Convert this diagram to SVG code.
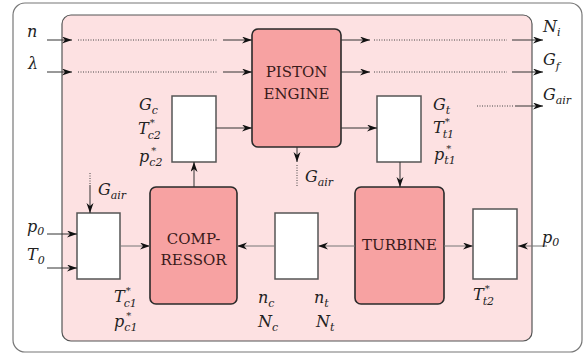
<svg xmlns="http://www.w3.org/2000/svg" width="584" height="353" viewBox="0 0 584 353">
<defs>
<marker id="ah" markerWidth="11" markerHeight="8" refX="10" refY="3.5" orient="auto" markerUnits="userSpaceOnUse">
<path d="M0,0 L10,3.5 L0,7 L3,3.5 z" fill="#111"/>
</marker>
<style>
.frame{fill:#fff;stroke:#777;stroke-width:1.2}
.inner{fill:#fde1e2;stroke:#555;stroke-width:1.2}
.mach{fill:#f7a2a2;stroke:#2a2a2a;stroke-width:1.6}
.box{fill:#fff;stroke:#555;stroke-width:1.5}
.ln{stroke:#333;stroke-width:1;fill:none;marker-end:url(#ah)}
.gl{stroke:#777;stroke-width:1;fill:none;marker-end:url(#ah)}
.dot{stroke:#444;stroke-width:1;stroke-dasharray:1,1.5;fill:none}
.m{font-family:'DejaVu Serif','Liberation Serif',serif;font-style:italic;font-size:16px;fill:#222}
.s{font-size:11px}
.st{font-size:10px;font-style:normal}
.lbl{font-family:'DejaVu Serif','Liberation Serif',serif;font-size:15px;fill:#3a1a1a;text-anchor:middle}
</style>
</defs>
<rect class="frame" x="13" y="3" width="569" height="349" rx="12"/>
<rect class="inner" x="62" y="15" width="470" height="326" rx="9"/>

<g id="piston"><rect class="mach" x="252" y="29" width="89" height="118" rx="6"/>
<text class="lbl" x="296.5" y="77">PISTON</text><text class="lbl" x="296.5" y="99">ENGINE</text></g>
<g id="compressor"><rect class="mach" x="150" y="187" width="87" height="117" rx="6"/>
<text class="lbl" x="193.5" y="244">COMP-</text><text class="lbl" x="193.5" y="265">RESSOR</text></g>
<g id="turbine"><rect class="mach" x="355" y="187" width="89" height="117" rx="6"/>
<text class="lbl" x="399.5" y="250">TURBINE</text></g>
<g id="box-gc"><rect class="box" x="172" y="96" width="44" height="66"/></g>
<g id="box-gt"><rect class="box" x="377" y="96" width="44" height="66"/></g>
<g id="box-in"><rect class="box" x="77" y="213" width="43" height="66"/></g>
<g id="box-shaft"><rect class="box" x="275" y="213" width="43" height="66"/></g>
<g id="box-out"><rect class="box" x="473" y="209" width="44" height="70"/></g>

<g id="connectors">
<line class="ln" x1="47" y1="40" x2="72" y2="40"/>
<line class="dot" x1="78" y1="40" x2="218" y2="40"/>
<line class="ln" x1="223" y1="40" x2="252" y2="40"/>
<line class="ln" x1="47" y1="72" x2="72" y2="72"/>
<line class="dot" x1="78" y1="72" x2="218" y2="72"/>
<line class="ln" x1="223" y1="72" x2="252" y2="72"/>
<line class="ln" x1="341" y1="40" x2="370" y2="40"/>
<line class="dot" x1="374" y1="40" x2="507" y2="40"/>
<line class="ln" x1="512" y1="40" x2="543" y2="40"/>
<line class="ln" x1="341" y1="72" x2="370" y2="72"/>
<line class="dot" x1="374" y1="72" x2="507" y2="72"/>
<line class="ln" x1="512" y1="72" x2="543" y2="72"/>
<line class="dot" x1="477" y1="106" x2="513" y2="106"/>
<line class="ln" x1="515" y1="106" x2="543" y2="106"/>
<line class="ln" x1="216" y1="128" x2="252" y2="128"/>
<line class="ln" x1="341" y1="128" x2="377" y2="128"/>
<line class="ln" x1="297" y1="147" x2="297" y2="162"/>
<line class="dot" x1="297" y1="165" x2="297" y2="186"/>
<line class="ln" x1="194" y1="187" x2="194" y2="162"/>
<line class="ln" x1="400" y1="162" x2="400" y2="187"/>
<line class="dot" x1="90" y1="173" x2="90" y2="185"/>
<line class="ln" x1="90" y1="185" x2="90" y2="213"/>
<line class="ln" x1="47" y1="234" x2="77" y2="234"/>
<line class="ln" x1="47" y1="268" x2="77" y2="268"/>
<line class="gl" x1="120" y1="246" x2="150" y2="246"/>
<line class="gl" x1="275" y1="246" x2="237" y2="246"/>
<line class="gl" x1="355" y1="246" x2="318" y2="246"/>
<line class="gl" x1="444" y1="246" x2="473" y2="246"/>
<line class="gl" x1="547" y1="246" x2="518" y2="246"/>
</g>

<g id="labels">
<text class="m" x="27" y="37">n</text>
<text class="m" x="28" y="69">λ</text>
<text class="m" x="543" y="32">N<tspan class="s" dy="4">i</tspan></text>
<text class="m" x="543" y="65">G<tspan class="s" dy="5">f</tspan></text>
<text class="m" x="543" y="100">G<tspan class="s" dy="4">air</tspan></text>

<text class="m" x="139" y="110">G<tspan class="s" dy="4">c</tspan></text>
<text class="m" x="138" y="134">T<tspan class="st" dx="1" dy="-8">*</tspan><tspan class="s" dx="-7" dy="13">c2</tspan></text>
<text class="m" x="139" y="162">p<tspan class="st" dx="2" dy="-8">*</tspan><tspan class="s" dx="-7" dy="12">c2</tspan></text>

<text class="m" x="433" y="110">G<tspan class="s" dy="4">t</tspan></text>
<text class="m" x="433" y="133">T<tspan class="st" dx="1" dy="-8">*</tspan><tspan class="s" dx="-7" dy="13">t1</tspan></text>
<text class="m" x="434" y="160">p<tspan class="st" dx="2" dy="-8">*</tspan><tspan class="s" dx="-7" dy="12">t1</tspan></text>

<text class="m" x="305" y="182">G<tspan class="s" dy="4">air</tspan></text>
<text class="m" x="98" y="195">G<tspan class="s" dy="4">air</tspan></text>
<text class="m" x="27" y="232">p<tspan class="s" dy="3">0</tspan></text>
<text class="m" x="27" y="260">T<tspan class="s" dy="4">0</tspan></text>

<text class="m" x="114" y="302">T<tspan class="st" dx="1" dy="-8">*</tspan><tspan class="s" dx="-7" dy="13">c1</tspan></text>
<text class="m" x="114" y="327">p<tspan class="st" dx="2" dy="-8">*</tspan><tspan class="s" dx="-7" dy="12">c1</tspan></text>

<text class="m" x="258" y="303">n<tspan class="s" dy="4">c</tspan></text>
<text class="m" x="258" y="327">N<tspan class="s" dy="4">c</tspan></text>
<text class="m" x="314" y="303">n<tspan class="s" dy="4">t</tspan></text>
<text class="m" x="316" y="327">N<tspan class="s" dy="4">t</tspan></text>

<text class="m" x="473" y="300">T<tspan class="st" dx="1" dy="-8">*</tspan><tspan class="s" dx="-7" dy="13">t2</tspan></text>
<text class="m" x="542" y="243">p<tspan class="s" dy="3">0</tspan></text>
</g>
</svg>
